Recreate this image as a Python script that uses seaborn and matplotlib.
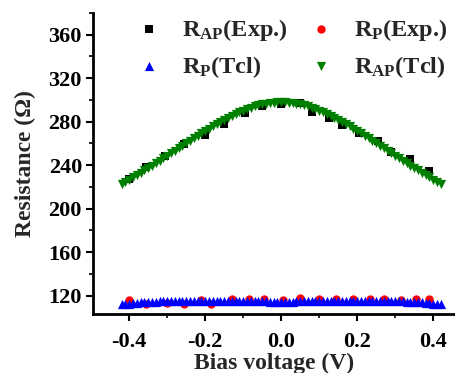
import numpy as np
import pandas as pd
import matplotlib
matplotlib.use("Agg")
import matplotlib.pyplot as plt
import seaborn as sns
from matplotlib.ticker import MultipleLocator

# --- data ---
v_exp_ap = [-0.40, -0.355, -0.305, -0.255, -0.20, -0.15, -0.095, -0.05, 0.0,
            0.05, 0.08, 0.125, 0.16, 0.205, 0.255, 0.29, 0.34, 0.39]
r_exp_ap = [227, 238, 248, 259, 268, 278, 288, 294, 296,
            297, 289, 283, 277, 270, 262, 252, 246, 235]

v_exp_p = [-0.40, -0.355, -0.30, -0.255, -0.21, -0.185, -0.13, -0.085, -0.045,
           0.005, 0.05, 0.10, 0.145, 0.19, 0.235, 0.27, 0.315, 0.355, 0.39]
r_exp_p = [115.5, 112.0, 113.0, 112.0, 115.5, 112.0, 116.5, 116.5, 116.5,
           116.0, 117.5, 116.5, 117.0, 117.0, 117.0, 117.0, 116.0, 117.0, 117.0]

v_tcl = [-0.42, -0.41, -0.40, -0.39, -0.38, -0.37, -0.36, -0.35, -0.34, -0.33,
         -0.32, -0.31, -0.30, -0.29, -0.28, -0.27, -0.26, -0.25, -0.24, -0.23,
         -0.22, -0.21, -0.20, -0.19, -0.18, -0.17, -0.16, -0.15, -0.14, -0.13,
         -0.12, -0.11, -0.10, -0.09, -0.08, -0.07, -0.06, -0.05, -0.04, -0.03,
         -0.02, -0.01, 0.00, 0.01, 0.02, 0.03, 0.04, 0.05, 0.06, 0.07,
         0.08, 0.09, 0.10, 0.11, 0.12, 0.13, 0.14, 0.15, 0.16, 0.17,
         0.18, 0.19, 0.20, 0.21, 0.22, 0.23, 0.24, 0.25, 0.26, 0.27,
         0.28, 0.29, 0.30, 0.31, 0.32, 0.33, 0.34, 0.35, 0.36, 0.37,
         0.38, 0.39, 0.40, 0.41, 0.42]
r_tcl_ap = [222.5, 224.6, 226.7, 228.8, 230.9, 233.0, 235.1, 237.3, 239.5, 241.7,
            244.0, 246.3, 248.6, 250.9, 253.2, 255.5, 257.8, 260.1, 262.4, 264.7,
            267.0, 269.2, 271.4, 273.5, 275.6, 277.7, 279.7, 281.7, 283.6, 285.4,
            287.1, 288.7, 290.2, 291.6, 292.9, 294.0, 295.0, 295.9, 296.6, 297.2,
            297.6, 297.9, 298.0, 297.9, 297.6, 297.2, 296.6, 295.9, 295.0, 294.0,
            292.9, 291.6, 290.2, 288.7, 287.1, 285.4, 283.6, 281.7, 279.7, 277.7,
            275.6, 273.5, 271.4, 269.2, 267.0, 264.7, 262.4, 260.1, 257.8, 255.5,
            253.2, 250.9, 248.6, 246.3, 244.0, 241.7, 239.5, 237.3, 235.1, 233.0,
            230.9, 228.8, 226.7, 224.6, 222.5]
r_tcl_p = [111.8, 112.2, 112.6, 113.0, 113.3, 113.6, 113.9, 114.1, 114.3, 114.5,
           114.7, 114.8, 114.9, 115.0, 115.0, 115.0, 115.0, 115.0, 115.0, 115.0,
           115.0, 115.0, 115.0, 115.0, 115.0, 115.0, 115.0, 115.0, 115.0, 115.0,
           115.0, 115.0, 115.0, 115.0, 115.0, 115.0, 115.0, 115.0, 114.8, 114.5,
           114.2, 114.0, 113.9, 114.0, 114.2, 114.5, 114.8, 115.0, 115.0, 115.0,
           115.0, 115.0, 115.0, 115.0, 115.0, 115.0, 115.0, 115.0, 115.0, 115.0,
           115.0, 115.0, 115.0, 115.0, 115.0, 115.0, 115.0, 115.0, 115.0, 115.0,
           115.0, 115.0, 114.9, 114.8, 114.7, 114.5, 114.3, 114.1, 113.9, 113.6,
           113.3, 113.0, 112.6, 112.2, 111.8]

# --- style ---
sns.set_theme(style="ticks")
plt.rcParams['font.family'] = ['Liberation Serif', 'DejaVu Serif']
plt.rcParams['font.weight'] = 'bold'
plt.rcParams['mathtext.fontset'] = 'custom'
plt.rcParams['mathtext.rm'] = 'Liberation Serif:bold'
plt.rcParams['mathtext.it'] = 'Liberation Serif:bold'
plt.rcParams['mathtext.bf'] = 'Liberation Serif:bold'

fig = plt.figure(figsize=(4.56, 3.73), dpi=100)
ax = fig.add_axes([93 / 456, (373 - 314) / 373, (456 - 93) / 456, (314 - 13) / 373])

sns.scatterplot(x=v_exp_ap, y=r_exp_ap, marker='s', s=32, color='black',
                linewidth=0, label=r'R$_{\mathrm{AP}}$(Exp.)', ax=ax, zorder=2)
sns.scatterplot(x=v_tcl, y=r_tcl_p, marker='^', s=44, color='#0000ff',
                linewidth=0, label=r'R$_{\mathrm{P}}$(Tcl)', ax=ax, zorder=3)
sns.scatterplot(x=v_exp_p, y=r_exp_p, marker='o', s=36, color='#ff0000',
                linewidth=0, label=r'R$_{\mathrm{P}}$(Exp.)', ax=ax, zorder=2)
sns.scatterplot(x=v_tcl, y=r_tcl_ap, marker='v', s=44, color='#008000',
                linewidth=0, label=r'R$_{\mathrm{AP}}$(Tcl)', ax=ax, zorder=3)

ax.set_xlim(-0.495, 0.46)
ax.set_ylim(103, 380)
ax.xaxis.set_minor_locator(MultipleLocator(0.1))
ax.yaxis.set_minor_locator(MultipleLocator(20))
ax.set_xticks([-0.4, -0.2, 0.0, 0.2, 0.4])
ax.set_xticklabels(['-0.4', '-0.2', '0.0', '0.2', '0.4'])
ax.set_yticks([120, 160, 200, 240, 280, 320, 360])

for side in ['top', 'right']:
    ax.spines[side].set_visible(False)
for side in ['left', 'bottom']:
    ax.spines[side].set_linewidth(2)
    ax.spines[side].set_color('black')
ax.tick_params(which='major', length=5, width=1.5, labelsize=16, colors='black')
ax.tick_params(which='minor', length=3, width=1.2, colors='black')
ax.tick_params(axis='x', which='major', pad=8)
ax.tick_params(axis='y', which='major', pad=3)

ax.set_xlabel('Bias voltage (V)', fontsize=17, fontweight='bold', labelpad=0.5)
ax.set_ylabel('Resistance (\u03a9)', fontsize=17, fontweight='bold', labelpad=9)

ax.legend(loc='upper left', bbox_to_anchor=(0.055, 1.06), ncol=2, frameon=False,
          prop={'family': 'Liberation Serif', 'weight': 'bold', 'size': 17.5},
          handletextpad=0.75, columnspacing=0.75, labelspacing=0.45,
          handlelength=1.2, markerscale=1.0)

fig.savefig('out.png', dpi=100)
